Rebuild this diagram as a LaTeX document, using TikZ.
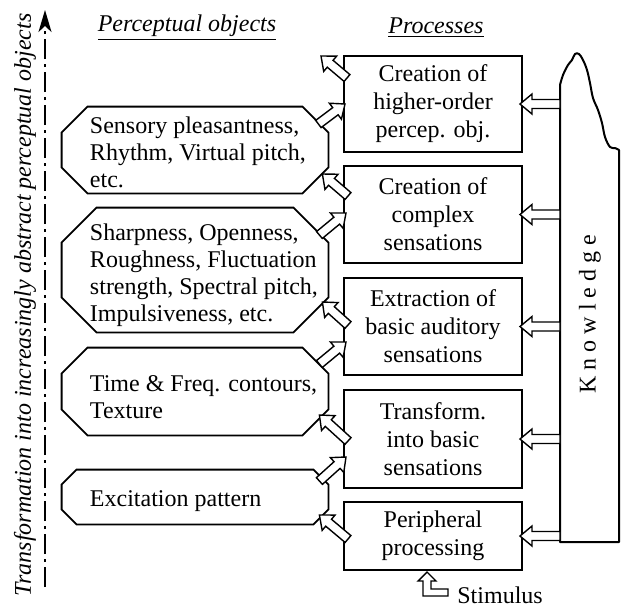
\documentclass[tikz,border=0pt]{standalone}
\usepackage{fontspec}
\setmainfont{Liberation Serif}
\usetikzlibrary{calc,arrows.meta}
\tikzset{
  pproc/.style={draw=black, line width=1pt, minimum width=89pt, align=center, inner sep=0pt, font=\fontsize{12}{14}\selectfont},
  pobj/.style={minimum width=133pt, inner sep=0pt},
  pobjtext/.style={anchor=west, align=left, inner sep=0pt, font=\fontsize{12}{13.5}\selectfont},
  poct/.style={line width=0.9pt, draw=black, line join=miter},
  phollow/.style={line width=0.7pt, draw=black, fill=white, line join=miter},
  pknow/.style={line width=1pt, draw=black, fill=white, line join=round},
  paxis/.style={line width=0.8pt, draw=black, dash pattern=on 10pt off 2.5pt on 1.5pt off 2.5pt},
  phead/.style={inner sep=0pt, font=\fontsize{12}{14}\selectfont\itshape},
}
\newcommand\pocta[2]{%
  \draw[poct] ($(#1.north west)+(#2,0)$) -- ($(#1.north east)+(-#2,0)$)
    -- ($(#1.north east)+(0,#2)$) -- ($(#1.south east)+(0,-#2)$)
    -- ($(#1.south east)+(-#2,0)$) -- ($(#1.south west)+(#2,0)$)
    -- ($(#1.south west)+(0,-#2)$) -- ($(#1.north west)+(0,#2)$) -- cycle;}
\newcommand\phollowarrow[2]{%
  \coordinate (ha) at #1;
  \coordinate (hb) at #2;
  \coordinate (hc) at ($(hb)!6pt!(ha)$);
  \draw[phollow] ($(ha)!2.25pt!90:(hb)$) -- ($(hc)!2.25pt!-90:(ha)$) -- ($(hc)!5pt!-90:(ha)$)
    -- (hb) -- ($(hc)!5pt!90:(ha)$) -- ($(hc)!2.25pt!90:(ha)$) -- ($(ha)!2.25pt!-90:(hb)$) -- cycle;}

\begin{document}
\begin{tikzpicture}[x=0.5pt, y=-0.5pt]
\useasboundingbox (0,0) rectangle (622,607);

\node[phead] (hobj) at (187,28) {\underline{Perceptual objects}};
\node[phead] (hproc) at (436,28) {\underline{Processes}};
\node[phead, rotate=90] (htrans) at (25,305) {Transformation into increasingly abstract perceptual objects};
\coordinate (ax0) at (45,587);
\coordinate (ax1) at (45,10);
\draw[paxis, -{Stealth[length=11pt, width=6.5pt, inset=3pt]}] (ax0) -- (ax1);

\coordinate (kbot) at (560,542);
\draw[pknow] (kbot) -- (560,85) -- plot[smooth, tension=0.6] coordinates {(560,85) (563,75) (568,65) (572,60) (575,54) (579,54) (583,60) (587,70) (590,83) (593,98) (598,110) (602,123) (605,137) (610,147) (615,148) (619,150)} -- (619,542) -- cycle;
\node[rotate=90, inner sep=0pt, font=\fontsize{12}{14}\selectfont] (kn) at (590,314) {K n o w l e d g e};

\node[pproc, minimum height=48pt] (p1) at (433,104) {Creation of\\higher-order\\percep. obj.};
\node[pproc, minimum height=48.5pt] (p2) at (433,214.5) {Creation of\\complex\\sensations};
\node[pproc, minimum height=48.5pt] (p3) at (433,326.5) {Extraction of\\basic auditory\\sensations};
\node[pproc, minimum height=49pt] (p4) at (433,439) {Transform.\\into basic\\sensations};
\node[pproc, minimum height=34pt] (p5) at (433,536) {Peripheral\\processing};

\node[pobj, minimum height=43pt] (o1) at (195,150) {};
\node[pobj, minimum height=62pt] (o2) at (195,270) {};
\node[pobj, minimum height=43.5pt] (o3) at (195,391.5) {};
\node[pobj, minimum height=27pt] (o4) at (195,497) {};
\pocta{o1}{26}
\pocta{o2}{35}
\pocta{o3}{26}
\pocta{o4}{15}
\node[pobjtext] (t1) at ($(o1.west)+(28,2)$) {Sensory pleasantness,\\Rhythm, Virtual pitch,\\etc.};
\node[pobjtext] (t2) at ($(o2.west)+(28,5)$) {Sharpness, Openness,\\Roughness, Fluctuation\\strength, Spectral pitch,\\Impulsiveness, etc.};
\node[pobjtext] (t3) at ($(o3.west)+(28,6)$) {Time \& Freq. contours,\\Texture};
\node[pobjtext] (t4) at ($(o4.west)+(28,4)$) {Excitation pattern};

\coordinate (pout) at (321,56);
\phollowarrow{($(p1.west)+(4,-26)$)}{(pout)}
\phollowarrow{($(o1.east)+(-10,-26)$)}{($(p1.west)+(2,0)$)}
\phollowarrow{($(p2.west)+(5,-18.5)$)}{($(o1.east)+(-6,24)$)}
\phollowarrow{($(o2.east)+(-9,-35)$)}{($(p2.west)+(3,-1.5)$)}
\phollowarrow{($(p3.west)+(5,-1.5)$)}{($(o2.east)+(-6,32)$)}
\phollowarrow{($(o3.east)+(-9,-27.5)$)}{($(p3.west)+(3,15.5)$)}
\phollowarrow{($(p4.west)+(5,2)$)}{($(o3.east)+(-9,23.5)$)}
\phollowarrow{($(o4.east)+(-9,-16)$)}{($(p4.west)+(3,18)$)}
\phollowarrow{($(p5.west)+(5,3)$)}{($(o4.east)+(-9,18)$)}

\phollowarrow{(p1.east -| kbot)}{($(p1.east)+(-3,0)$)}
\phollowarrow{(p2.east -| kbot)}{($(p2.east)+(-3,0)$)}
\phollowarrow{(p3.east -| kbot)}{($(p3.east)+(-3,0)$)}
\phollowarrow{(p4.east -| kbot)}{($(p4.east)+(-3,0)$)}
\phollowarrow{(p5.east -| kbot)}{($(p5.east)+(-3,0)$)}

\node[anchor=base west, inner sep=0pt, font=\fontsize{12}{14}\selectfont] (stim) at (457,603) {Stimulus};
\draw[phollow] ($(p5.south)+(-6,1)$) -- ++(9,9) -- ++(-5,0) -- ++(0,8) -- ++(17,0) -- ++(0,7) -- ++(-25,0) -- ++(0,-15) -- ++(-5,0) -- cycle;
\end{tikzpicture}
\end{document}
